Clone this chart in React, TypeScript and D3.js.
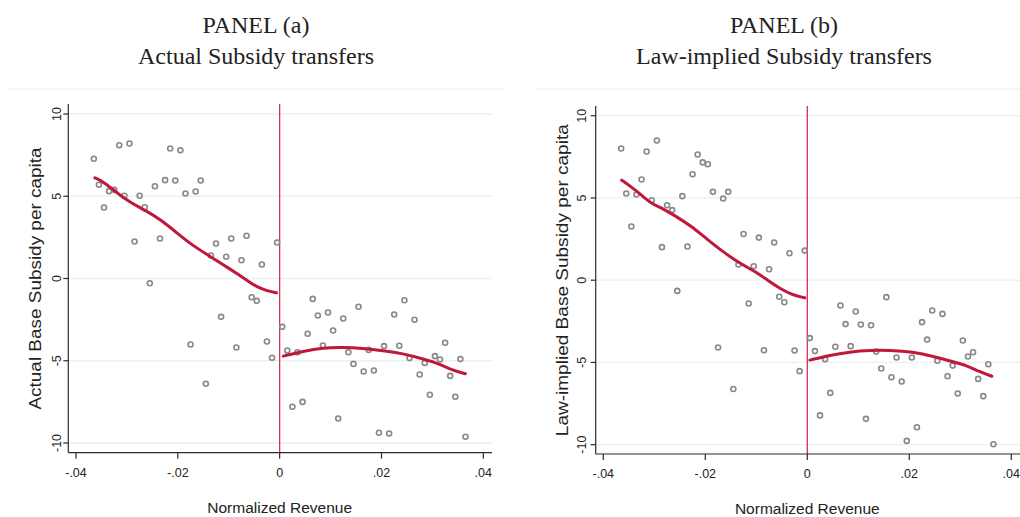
import React from "react";
import * as d3 from "d3";

// bin midpoints of normalized revenue
const binsLeft = [
  -0.0365, -0.0355, -0.0345, -0.0335, -0.0325, -0.0315, -0.0305, -0.0295, -0.0285, -0.0275,
  -0.0265, -0.0255, -0.0245, -0.0235, -0.0225, -0.0215, -0.0205, -0.0195, -0.0185, -0.0175,
  -0.0165, -0.0155, -0.0145, -0.0135, -0.0125, -0.0115, -0.0105, -0.0095, -0.0085, -0.0075,
  -0.0065, -0.0055, -0.0045, -0.0035, -0.0025, -0.0015, -0.0005,
];
const binsRight = [
  0.0005, 0.0015, 0.0025, 0.0035, 0.0045, 0.0055, 0.0065, 0.0075, 0.0085, 0.0095,
  0.0105, 0.0115, 0.0125, 0.0135, 0.0145, 0.0155, 0.0165, 0.0175, 0.0185, 0.0195,
  0.0205, 0.0215, 0.0225, 0.0235, 0.0245, 0.0255, 0.0265, 0.0275, 0.0285, 0.0295,
  0.0305, 0.0315, 0.0325, 0.0335, 0.0345, 0.0355, 0.0365,
];

// panel (a) actual subsidy
const actualLeft = [
  7.28, 5.7, 4.32, 5.31, 5.39, 8.1, 5.03, 8.21, 2.25, 5.03, 4.33, -0.29, 5.61, 2.43, 5.98, 7.9,
  5.96, 7.8, 5.17, -4.01, 5.29, 5.96, -6.4, 1.4, 2.13, -2.33, 1.32, 2.43, -4.19, 1.11, 2.6,
  -1.14, -1.36, 0.85, -3.83, -4.82, 2.19,
];
const actualRight = [
  -2.94, -4.38, -7.8, -4.48, -7.5, -3.36, -1.24, -2.25, -4.07, -2.07, -3.16, -8.51, -2.43,
  -4.48, -5.19, -1.72, -5.65, -4.34, -5.59, -9.38, -4.11, -9.42, -2.19, -4.09, -1.32, -4.84,
  -2.51, -5.84, -5.13, -7.07, -4.72, -4.92, -3.91, -5.92, -7.19, -4.9, -9.62,
];
const actualFitLeftX = [
  -0.0363, -0.0346, -0.0324, -0.0294, -0.0261, -0.0233, -0.0203, -0.017, -0.0137, -0.0105,
  -0.0078, -0.0056, -0.0046, -0.0026, -0.0006,
];
const actualFitLeftY = [6.12, 5.88, 5.31, 4.62, 4.1, 3.56, 2.8, 1.98, 1.36, 0.72, 0.18, -0.28, -0.48, -0.74, -0.87];
const actualFitRightX = [0.0007, 0.0046, 0.0085, 0.0124, 0.0163, 0.0203, 0.0242, 0.0281, 0.0314, 0.034, 0.0365];
const actualFitRightY = [-4.72, -4.42, -4.21, -4.18, -4.24, -4.38, -4.56, -4.88, -5.19, -5.59, -5.79];

// panel (b) law-implied subsidy
const lawLeft = [
  8.01, 5.27, 3.26, 5.21, 6.12, 7.82, 4.86, 8.49, 2.01, 4.56, 4.26, -0.65, 5.11, 2.05, 6.44,
  7.64, 7.16, 7.05, 5.37, -4.09, 4.97, 5.37, -6.61, 0.95, 2.81, -1.42, 0.85, 2.59, -4.26, 0.67,
  2.29, -1.01, -1.34, 1.64, -4.27, -5.53, 1.8,
];
const lawRight = [
  -3.52, -4.31, -8.22, -4.8, -6.85, -4.05, -1.54, -2.67, -4.01, -1.9, -2.69, -8.43, -2.74,
  -4.34, -5.37, -1.03, -5.9, -4.7, -6.16, -9.77, -4.7, -8.94, -2.55, -3.61, -1.84, -4.9, -2.05,
  -5.84, -5.19, -6.89, -3.67, -4.64, -4.38, -6.0, -7.05, -5.11, -9.97,
];
const lawFitLeftX = [
  -0.0364, -0.0345, -0.0325, -0.0306, -0.0283, -0.0256, -0.023, -0.0198, -0.0165, -0.0132,
  -0.01, -0.0078, -0.0054, -0.0028, -0.0005,
];
const lawFitLeftY = [6.08, 5.67, 5.17, 4.66, 4.36, 3.85, 3.34, 2.53, 1.72, 1.01, 0.5, 0.0, -0.5, -0.91, -1.07];
const lawFitRightX = [0.0005, 0.0044, 0.0083, 0.0123, 0.0162, 0.0207, 0.0247, 0.0286, 0.0312, 0.0338, 0.0362];
const lawFitRightY = [-4.86, -4.56, -4.36, -4.26, -4.26, -4.36, -4.62, -4.97, -5.17, -5.57, -5.84];

const yTicks = [10, 5, 0, -5, -10];
const yTickLabels = ["10", "5", "0", "-5", "-10"];
const xTicks = [-0.04, -0.02, 0, 0.02, 0.04];
const xTickLabels = ["-.04", "-.02", "0", ".02", ".04"];

const SANS = "'Liberation Sans', Arial, sans-serif";
const SERIF = "'Liberation Serif', 'Times New Roman', serif";
const AXIS = "#2b2b2b";
const GRID = "#e9f1f1";
const MARK = "#888888";
const FIT = "#c0173b";
const CUT = "#d8304f";

type Geo = {
  axisX: number;
  top: number;
  axisY: number;
  xr: [number, number];
  yr: [number, number];
  right: number;
  titleX: number;
  frame: [number, number];
  yTitleX: number;
  yTitleLen: number;
  yTickX: number;
  xTickY: number;
  xTitleY: number;
};

type PanelProps = {
  title: string;
  subtitle: string;
  yTitle: string;
  left: number[];
  right: number[];
  fitL: [number[], number[]];
  fitR: [number[], number[]];
  g: Geo;
};

const Panel = ({ title, subtitle, yTitle, left, right, fitL, fitR, g }: PanelProps) => {
  const x = d3.scaleLinear().domain([-0.04, 0.04]).range(g.xr);
  const y = d3.scaleLinear().domain([10, -10]).range(g.yr);
  const line = d3
    .line<[number, number]>()
    .x((d) => x(d[0]))
    .y((d) => y(d[1]))
    .curve(d3.curveBasis);

  const pts = [
    ...binsLeft.map((b, i) => [b, left[i]] as [number, number]),
    ...binsRight.map((b, i) => [b, right[i]] as [number, number]),
  ];
  const fitLPts = fitL[0].map((v, i) => [v, fitL[1][i]] as [number, number]);
  const fitRPts = fitR[0].map((v, i) => [v, fitR[1][i]] as [number, number]);

  return (
    <g>
      <text x={g.titleX} y={33} textAnchor="middle" fontFamily={SERIF} fontSize={24} fill="#222">
        {title}
      </text>
      <text x={g.titleX} y={64} textAnchor="middle" fontFamily={SERIF} fontSize={24} fill="#222">
        {subtitle}
      </text>
      <line x1={g.frame[0]} x2={g.frame[1]} y1={89} y2={89} stroke="#eaf0f0" strokeWidth={1} />

      {/* gridlines */}
      {yTicks.map((t) => (
        <line key={"g" + t} x1={g.axisX} x2={g.right} y1={y(t)} y2={y(t)} stroke={GRID} strokeWidth={1.3} />
      ))}

      {/* cutoff line */}
      <line x1={x(0)} x2={x(0)} y1={g.top} y2={g.axisY} stroke={CUT} strokeWidth={1.3} />

      {/* markers */}
      {pts.map((d, i) => (
        <circle key={i} cx={x(d[0])} cy={y(d[1])} r={2.5} fill="none" stroke={MARK} strokeWidth={1.6} />
      ))}

      {/* fitted lines */}
      <path d={line(fitLPts) || ""} fill="none" stroke={FIT} strokeWidth={3} strokeLinecap="round" />
      <path d={line(fitRPts) || ""} fill="none" stroke={FIT} strokeWidth={3} strokeLinecap="round" />

      {/* y axis */}
      <line x1={g.axisX} x2={g.axisX} y1={g.top} y2={g.axisY} stroke={AXIS} strokeWidth={1.2} />
      {yTicks.map((t, i) => (
        <g key={"y" + t}>
          <line x1={g.axisX - 5} x2={g.axisX} y1={y(t)} y2={y(t)} stroke={AXIS} strokeWidth={1.2} />
          <text
            transform={`translate(${g.yTickX},${y(t)}) rotate(-90)`}
            textAnchor="middle"
            fontFamily={SANS}
            fontSize={12.5}
            fill="#222"
          >
            {yTickLabels[i]}
          </text>
        </g>
      ))}
      <text
        transform={`translate(${g.yTitleX},${(g.yr[0] + g.yr[1]) / 2}) rotate(-90)`}
        textAnchor="middle"
        fontFamily={SANS}
        fontSize={16}
        textLength={g.yTitleLen}
        lengthAdjust="spacingAndGlyphs"
        fill="#222"
      >
        {yTitle}
      </text>

      {/* x axis */}
      <line x1={g.axisX} x2={g.right} y1={g.axisY} y2={g.axisY} stroke={AXIS} strokeWidth={1.2} />
      {xTicks.map((t, i) => (
        <g key={"x" + t}>
          <line x1={x(t)} x2={x(t)} y1={g.axisY} y2={g.axisY + 6} stroke={AXIS} strokeWidth={1.2} />
          <text x={x(t)} y={g.xTickY} textAnchor="middle" fontFamily={SANS} fontSize={12.5} fill="#222">
            {xTickLabels[i]}
          </text>
        </g>
      ))}
      <text x={x(0)} y={g.xTitleY} textAnchor="middle" fontFamily={SANS} fontSize={15.5} fill="#222">
        Normalized Revenue
      </text>
    </g>
  );
};

const geoA: Geo = {
  axisX: 68.3,
  top: 104,
  axisY: 452.7,
  xr: [76, 483.3],
  yr: [114, 443],
  right: 492,
  titleX: 256,
  frame: [8, 505],
  yTitleX: 41,
  yTitleLen: 262,
  yTickX: 61,
  xTickY: 477,
  xTitleY: 513,
};

const geoB: Geo = {
  axisX: 595.7,
  top: 106,
  axisY: 454,
  xr: [603.3, 1011.3],
  yr: [115.7, 444.7],
  right: 1022,
  titleX: 784,
  frame: [535, 1020],
  yTitleX: 568,
  yTitleLen: 312,
  yTickX: 585.5,
  xTickY: 478,
  xTitleY: 514,
};

export default function App() {
  return (
    <svg
      width={1020}
      height={517}
      style={{ position: "absolute", left: 0, top: 0, background: "#fff" }}
    >
      <Panel
        title="PANEL (a)"
        subtitle="Actual Subsidy transfers"
        yTitle="Actual Base Subsidy per capita"
        left={actualLeft}
        right={actualRight}
        fitL={[actualFitLeftX, actualFitLeftY]}
        fitR={[actualFitRightX, actualFitRightY]}
        g={geoA}
      />
      <Panel
        title="PANEL (b)"
        subtitle="Law-implied Subsidy transfers"
        yTitle="Law-implied Base Subsidy per capita"
        left={lawLeft}
        right={lawRight}
        fitL={[lawFitLeftX, lawFitLeftY]}
        fitR={[lawFitRightX, lawFitRightY]}
        g={geoB}
      />
    </svg>
  );
}
